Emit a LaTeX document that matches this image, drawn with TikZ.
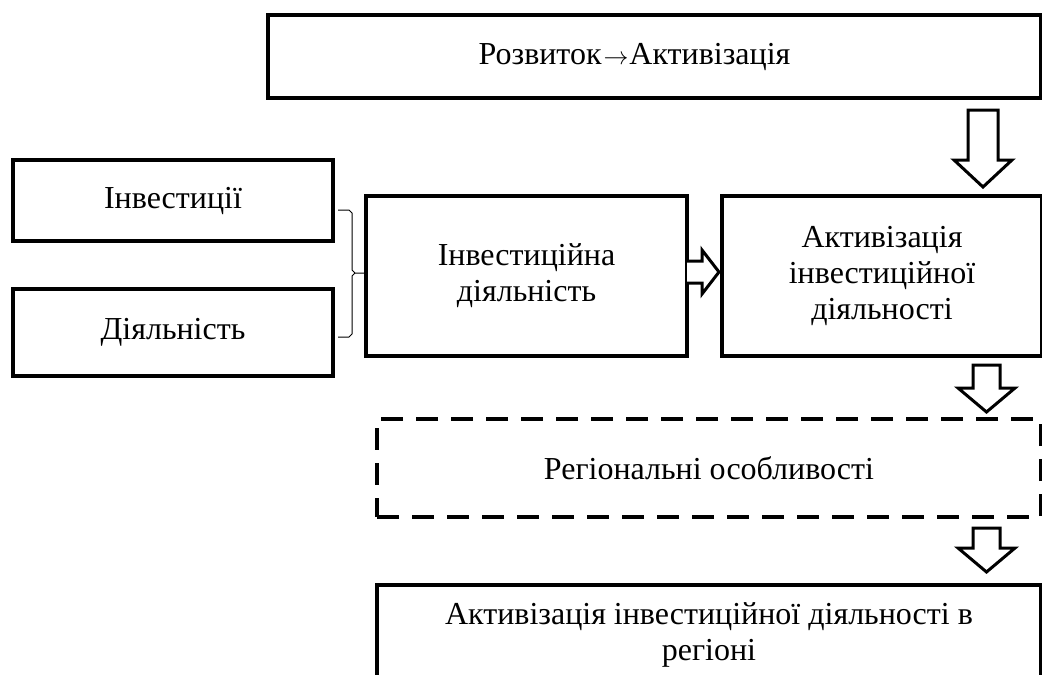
\documentclass[tikz,border=0pt]{standalone}
\usepackage{fontspec}
\setmainfont{Liberation Serif}
\begin{document}
\begin{tikzpicture}[x=1pt,y=-1pt,
  box/.style={draw, line width=3.5pt, anchor=north west, inner sep=0pt, outer sep=0pt,
    align=center, font=\fontsize{32}{36}\selectfont},
  dbox/.style={box, dash pattern=on 22pt off 13pt, line width=4pt},
  blockarrow/.style={draw, line width=3pt, fill=white, line join=miter},
  bracel/.style={draw, line width=1pt}]
\useasboundingbox (0,0) rectangle (1042,675);
\clip (0,0) rectangle (1042,675);
\fill[white] (0,0) rectangle (1042,675);
% boxes
\node[box, minimum width=773pt, minimum height=83pt] (top) at (268,15) {Розвиток\kern2pt$\rightarrow$\kern1ptАктивізація\kern40pt};
\node[box, minimum width=320pt, minimum height=81pt] (inv) at (13,160) {Інвестиції};
\node[box, minimum width=320pt, minimum height=87pt] (dial) at (13,289) {Діяльність};
\node[box, minimum width=321pt, minimum height=160pt] (invd) at (366,196) {Інвестиційна\\діяльність};
\node[box, minimum width=320pt, minimum height=160pt] (akt) at (722,196) {Активізація\\інвестиційної\\діяльності};
\node[dbox, minimum width=664pt, minimum height=98pt] (reg) at (377,419) {Регіональні особливості};
\node[box, minimum width=664pt, minimum height=100pt] (bot) at (377,585) {Активізація інвестиційної діяльності в\\регіоні};
% brace
\draw[bracel] (338,210) -- (349,210) -- (352,213) -- (352,270) -- (355,273) -- (365,273);
\draw[bracel] (355,273) -- (352,276) -- (352,334) -- (349,337) -- (338,337);
% block arrows
\draw[blockarrow] (968,110) -- (998,110) -- (998,160) -- (1012,160) -- (983,187) -- (954,160) -- (968,160) -- cycle;
\draw[blockarrow] (973,365) -- (1000,365) -- (1000,388) -- (1015,388) -- (986.5,412) -- (958,388) -- (973,388) -- cycle;
\draw[blockarrow] (973,528) -- (1000,528) -- (1000,548) -- (1015,548) -- (986.5,572) -- (958,548) -- (973,548) -- cycle;
\draw[blockarrow] (invd.east |- 0,261) -- (702,261) -- (702,250) -- (719,272) -- (702,294) -- (702,283) -- (invd.east |- 0,283);
\end{tikzpicture}
\end{document}
